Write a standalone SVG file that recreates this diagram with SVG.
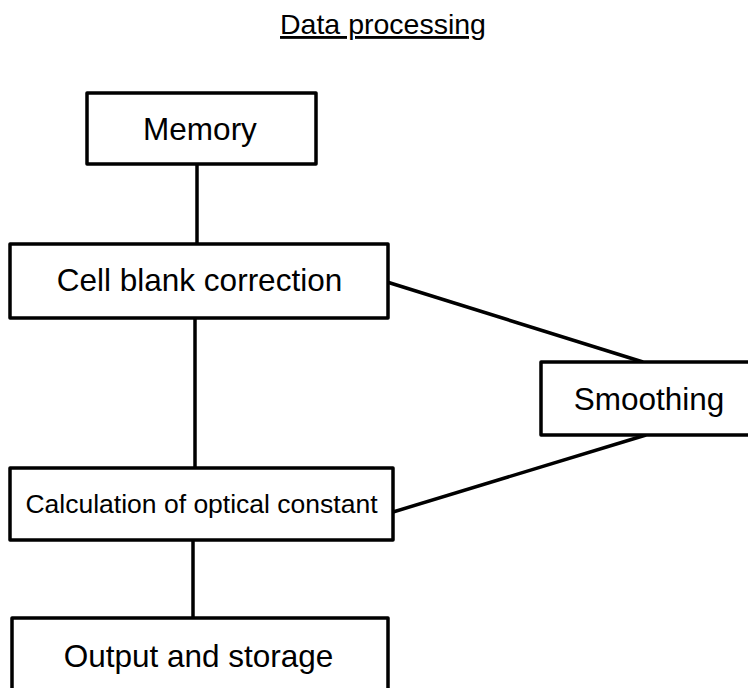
<svg xmlns="http://www.w3.org/2000/svg" width="748" height="688" viewBox="0 0 748 688">
  <style>
    .box { fill: #fff; stroke: #000; stroke-width: 3.5; stroke-linejoin: round; }
    .lbl { font-family: "Liberation Sans", Arial, sans-serif; font-size: 31.5px; fill: #000; text-anchor: middle; }
    .small { font-size: 26.5px; }
    .title { font-family: "Liberation Sans", Arial, sans-serif; font-size: 28.5px; fill: #000; text-anchor: middle; text-decoration: underline; }
    .wire { stroke: #000; stroke-width: 3.5; fill: none; stroke-linecap: butt; }
  </style>
  <rect width="748" height="688" fill="#fff"/>

  <text class="title" x="383" y="34">Data processing</text>

  <g id="connectors">
    <line class="wire" x1="197" y1="164" x2="197" y2="244"/>
    <line class="wire" x1="195" y1="318" x2="195" y2="468"/>
    <line class="wire" x1="193" y1="540" x2="193" y2="618"/>
    <line class="wire" x1="387" y1="282" x2="643" y2="362"/>
    <line class="wire" x1="646" y1="435" x2="393" y2="512"/>
  </g>

  <g id="memory">
    <rect class="box" x="87" y="93" width="229" height="71"/>
    <text class="lbl" x="200" y="140">Memory</text>
  </g>

  <g id="cell-blank-correction">
    <rect class="box" x="10" y="244" width="378" height="74"/>
    <text class="lbl" x="199.5" y="291">Cell blank correction</text>
  </g>

  <g id="smoothing">
    <rect class="box" x="541" y="362" width="220" height="73"/>
    <text class="lbl" x="649" y="410">Smoothing</text>
  </g>

  <g id="optical-constant">
    <rect class="box" x="10" y="468" width="383" height="72"/>
    <text class="lbl small" x="201.5" y="513">Calculation of optical constant</text>
  </g>

  <g id="output-storage">
    <rect class="box" x="12" y="618" width="376" height="80"/>
    <text class="lbl" x="198.5" y="667">Output and storage</text>
  </g>
</svg>
